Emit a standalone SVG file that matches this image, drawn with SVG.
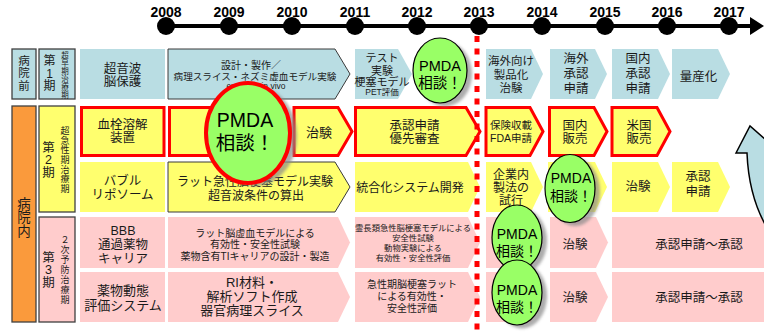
<svg xmlns="http://www.w3.org/2000/svg" width="764" height="335" viewBox="0 0 764 335">
<defs>
<style>
text { font-family: "Liberation Sans","Noto Sans CJK JP",sans-serif; text-anchor: middle; dominant-baseline: central; fill: #1a1a1a; }
.yr { font-weight: bold; font-size: 14px; dominant-baseline: alphabetic; fill: #000; }
.blue { fill: #b9dde3; }
.yel { fill: #ffff6e; }
.pink { fill: #ffcccc; }
.orange { fill: #fa9a3c; }
.red { stroke: #ff0000; stroke-width: 3; }
.dk { stroke: #3a3a3a; stroke-width: 1; }
.lbl { stroke: #404040; stroke-width: 1.3; }
.pm { fill: #99ff66; stroke: #000; stroke-width: 1.2; }
.pmr { fill: #99ff66; stroke: #ff0000; stroke-width: 4; }
.sh { fill: #8a8a8a; opacity: 0.7; filter: url(#blur); }
.pt { fill: #000; }
</style>
<filter id="blur" x="-20%" y="-20%" width="140%" height="140%"><feGaussianBlur stdDeviation="1.5"/></filter>
</defs>
<rect width="764" height="335" fill="#fff"/>

<g id="timeline">
<line x1="166" y1="26" x2="752" y2="26" stroke="#000" stroke-width="4"/>
<polygon points="750,17 764,26 750,35" fill="#000"/>
<g fill="#000">
<circle cx="166" cy="26" r="9"/><circle cx="229" cy="26" r="9"/><circle cx="292" cy="26" r="9"/><circle cx="355" cy="26" r="9"/><circle cx="417" cy="26" r="9"/><circle cx="479" cy="26" r="9"/><circle cx="542" cy="26" r="9"/><circle cx="605" cy="26" r="9"/><circle cx="667" cy="26" r="9"/><circle cx="729" cy="26" r="9"/>
</g>
<text class="yr" x="166" y="17">2008</text><text class="yr" x="229" y="17">2009</text><text class="yr" x="292" y="17">2010</text><text class="yr" x="355" y="17">2011</text><text class="yr" x="417" y="17">2012</text><text class="yr" x="479" y="17">2013</text><text class="yr" x="542" y="17">2014</text><text class="yr" x="605" y="17">2015</text><text class="yr" x="667" y="17">2016</text><text class="yr" x="729" y="17">2017</text>
</g>

<g id="labels">
<rect x="12" y="49" width="24" height="50" class="blue lbl"/>
<text font-size="11.5"><tspan x="24" y="60.5">病</tspan><tspan x="24" y="73">院</tspan><tspan x="24" y="85.5">前</tspan></text>
<rect x="12" y="106" width="24" height="216" class="orange lbl"/>
<text font-size="13.5"><tspan x="24" y="203.5">病</tspan><tspan x="24" y="217">院</tspan><tspan x="24" y="230.5">内</tspan></text>
<rect x="39" y="49" width="36" height="50" class="blue lbl"/>
<text font-size="12"><tspan x="49.5" y="61">第</tspan><tspan x="49.5" y="73.5">1</tspan><tspan x="49.5" y="86">期</tspan></text>
<text font-size="7.5"><tspan x="65" y="55">超</tspan><tspan x="65" y="63">早</tspan><tspan x="65" y="71">期</tspan><tspan x="65" y="79">治</tspan><tspan x="65" y="87">療</tspan><tspan x="65" y="95">期</tspan></text>
<rect x="39" y="106" width="36" height="106" class="yel lbl"/>
<text font-size="12.5"><tspan x="48.5" y="147.5">第</tspan><tspan x="48.5" y="160">2</tspan><tspan x="48.5" y="172.5">期</tspan></text>
<text font-size="9"><tspan x="65" y="131">超</tspan><tspan x="65" y="140.7">急</tspan><tspan x="65" y="150.3">性</tspan><tspan x="65" y="160">期</tspan><tspan x="65" y="169.7">治</tspan><tspan x="65" y="179.3">療</tspan><tspan x="65" y="189">期</tspan></text>
<rect x="39" y="217" width="36" height="105" class="pink lbl"/>
<text font-size="12.5"><tspan x="48.5" y="257.5">第</tspan><tspan x="48.5" y="270">3</tspan><tspan x="48.5" y="282.5">期</tspan></text>
<text font-size="9"><tspan x="65" y="240">２</tspan><tspan x="65" y="250">次</tspan><tspan x="65" y="260">予</tspan><tspan x="65" y="270">防</tspan><tspan x="65" y="280">治</tspan><tspan x="65" y="290">療</tspan><tspan x="65" y="300">期</tspan></text>
</g>

<g id="row1">
<rect x="80" y="49" width="85" height="50" class="blue"/>
<text font-size="12.5"><tspan x="122.5" y="68.5">超音波</tspan><tspan x="122.5" y="82">脳保護</tspan></text>
<polygon points="168,49 335,49 350,74 335,99 168,99" class="blue dk"/>
<text font-size="10" x="251" y="65">設計・製作／</text>
<text font-size="9.6" x="255" y="76">病理スライス・ネズミ虚血モデル実験</text>
<text font-size="8.5" x="256" y="86" fill="#333">ex vivo　in vivo</text>
<polygon points="355,49 398,49 412,74 398,99 355,99" class="blue"/>
<text font-size="11"><tspan x="382" y="58">テスト</tspan><tspan x="382" y="70.5">実験</tspan><tspan x="382" y="82">梗塞モデル</tspan><tspan x="382" y="92" font-size="8.5">PET評価</tspan></text>
<polygon points="486,49 531,49 543,74 531,99 486,99" class="blue"/>
<text font-size="11.5"><tspan x="511" y="61">海外向け</tspan><tspan x="511" y="75">製品化</tspan><tspan x="511" y="88">治験</tspan></text>
<polygon points="550,49 595,49 607,74 595,99 550,99" class="blue"/>
<text font-size="12.5"><tspan x="576" y="59">海外</tspan><tspan x="576" y="74">承認</tspan><tspan x="576" y="89">申請</tspan></text>
<polygon points="612,49 658,49 670,74 658,99 612,99" class="blue"/>
<text font-size="12.5"><tspan x="638" y="59">国内</tspan><tspan x="638" y="74">承認</tspan><tspan x="638" y="89">申請</tspan></text>
<polygon points="672,49 718,49 730,74 718,99 672,99" class="blue"/>
<text font-size="12.5" x="698.5" y="77">量産化</text>
</g>

<g id="row2">
<rect x="81.5" y="107.5" width="82.5" height="48" class="yel red"/>
<text font-size="12.5"><tspan x="122.5" y="124.5">血栓溶解</tspan><tspan x="122.5" y="138">装置</tspan></text>
<polygon points="169.5,107.5 276,107.5 290,131.5 276,155.5 169.5,155.5" class="yel red"/>
<polygon points="294,107.5 338,107.5 352,131.5 338,155.5 294,155.5" class="yel red"/>
<text font-size="13" x="319" y="132">治験</text>
<polygon points="355.5,107.5 466,107.5 480,131.5 466,155.5 355.5,155.5" class="yel red"/>
<text font-size="12.5"><tspan x="414.5" y="125.5">承認申請</tspan><tspan x="414.5" y="139">優先審査</tspan></text>
<polygon points="486,107.5 530,107.5 543,131.5 530,155.5 486,155.5" class="yel red"/>
<text font-size="10.5"><tspan x="511" y="125">保険収載</tspan><tspan x="511" y="138">FDA申請</tspan></text>
<polygon points="549.5,107.5 594,107.5 607,131.5 594,155.5 549.5,155.5" class="yel red"/>
<text font-size="12.5"><tspan x="575" y="125.5">国内</tspan><tspan x="575" y="139">販売</tspan></text>
<polygon points="612,107.5 657,107.5 670,131.5 657,155.5 612,155.5" class="yel red"/>
<text font-size="12.5"><tspan x="639" y="125.5">米国</tspan><tspan x="639" y="139">販売</tspan></text>
</g>

<g id="row3">
<rect x="80" y="162" width="85" height="50" class="yel"/>
<text font-size="12.5"><tspan x="122.5" y="181">バブル</tspan><tspan x="122.5" y="194.5">リポソーム</tspan></text>
<polygon points="168,162 335,162 350,187 335,212 168,212" class="yel dk"/>
<text font-size="12"><tspan x="255" y="182">ラット急性脳梗塞モデル実験</tspan><tspan x="256" y="196">超音波条件の算出</tspan></text>
<polygon points="355,162 468,162 480,187 468,212 355,212" class="yel"/>
<text font-size="12" x="410" y="188">統合化システム開発</text>
<polygon points="486,162 531,162 543,187 531,212 486,212" class="yel"/>
<text font-size="12"><tspan x="511" y="175">企業内</tspan><tspan x="511" y="188">製法の</tspan><tspan x="511" y="201">試行</tspan></text>
<polygon points="548,162 595,162 607,187 595,212 548,212" class="yel"/>
<polygon points="612,162 658,162 670,187 658,212 612,212" class="yel"/>
<text font-size="12.5" x="638" y="187">治験</text>
<polygon points="672,162 718,162 730,187 718,212 672,212" class="yel"/>
<text font-size="12.5"><tspan x="698" y="177">承認</tspan><tspan x="698" y="192">申請</tspan></text>
</g>

<g id="row4">
<rect x="80" y="217" width="85" height="51" class="pink"/>
<text font-size="12.5"><tspan x="123" y="231">BBB</tspan><tspan x="123" y="245">通過薬物</tspan><tspan x="123" y="258.5">キャリア</tspan></text>
<polygon points="168,217 338,217 350,242.5 338,268 168,268" class="pink"/>
<text font-size="10"><tspan x="255" y="233">ラット脳虚血モデルによる</tspan><tspan x="255" y="244">有効性・安全性試験</tspan><tspan x="255" y="255.5">薬物含有TIキャリアの設計・製造</tspan></text>
<polygon points="355,217 468,217 480,242.5 468,268 355,268" class="pink"/>
<text font-size="8.3"><tspan x="413" y="228">霊長類急性脳梗塞モデルによる</tspan><tspan x="413" y="238">安全性試験</tspan><tspan x="413" y="248">動物実験による</tspan><tspan x="413" y="258">有効性・安全性評価</tspan></text>
<polygon points="486,217 531,217 543,242.5 531,268 486,268" class="pink"/>
<polygon points="550,217 596,217 608,242.5 596,268 550,268" class="pink"/>
<text font-size="12.5" x="575" y="245">治験</text>
<rect x="612" y="217" width="152" height="51" class="pink"/>
<text font-size="12.5" x="699" y="245">承認申請～承認</text>
</g>

<g id="row5">
<rect x="80" y="272" width="85" height="50" class="pink"/>
<text font-size="13"><tspan x="123" y="290">薬物動態</tspan><tspan x="123" y="305">評価システム</tspan></text>
<polygon points="168,272 338,272 350,297 338,322 168,322" class="pink"/>
<text font-size="13"><tspan x="252" y="282">RI材料・</tspan><tspan x="252" y="296">解析ソフト作成</tspan><tspan x="252" y="310">器官病理スライス</tspan></text>
<polygon points="355,272 468,272 480,297 468,322 355,322" class="pink"/>
<text font-size="10"><tspan x="412" y="284">急性期脳梗塞ラット</tspan><tspan x="412" y="296">による有効性・</tspan><tspan x="412" y="308">安全性評価</tspan></text>
<polygon points="486,272 531,272 543,297 531,322 486,322" class="pink"/>
<polygon points="550,272 596,272 608,297 596,322 550,322" class="pink"/>
<text font-size="12.5" x="575" y="298">治験</text>
<rect x="612" y="272" width="152" height="50" class="pink"/>
<text font-size="12.5" x="699" y="298">承認申請～承認</text>
</g>

<g id="connectors">
<line x1="477" y1="36" x2="477" y2="335" stroke="#ff0000" stroke-width="5" stroke-dasharray="6 6.5"/>
<path d="M736,153 L750,126 L800,170 L790,170 L790,250 L775,240 Q749,205 747,153 Z" fill="#b9dde3" stroke="#000" stroke-width="1.5"/>
</g>

<g id="pmda1">
<ellipse cx="445" cy="74" rx="27" ry="32.5" class="sh"/>
<ellipse cx="440" cy="70.5" rx="27" ry="32.5" class="pm"/>
<text class="pt" font-size="14.5"><tspan x="440" y="66">PMDA</tspan><tspan x="440" y="82.5">相談！</tspan></text>
</g>
<g id="pmda-main">
<ellipse cx="255" cy="136" rx="42" ry="50" class="sh"/>
<ellipse cx="248" cy="133" rx="42" ry="50" class="pmr"/>
<text class="pt" font-size="19.5"><tspan x="245" y="119.5">PMDA</tspan><tspan x="245" y="142.5">相談！</tspan></text>
</g>
<g id="pmda2">
<ellipse cx="575" cy="192" rx="25" ry="34" class="sh"/>
<ellipse cx="570" cy="188.5" rx="25" ry="34" class="pm"/>
<text class="pt" font-size="14"><tspan x="571" y="178">PMDA</tspan><tspan x="571" y="195.5">相談！</tspan></text>
</g>
<g id="pmda3">
<ellipse cx="522" cy="241" rx="25" ry="32.5" class="sh"/>
<ellipse cx="517" cy="237.5" rx="25" ry="32.5" class="pm"/>
<text class="pt" font-size="14"><tspan x="517" y="233.5">PMDA</tspan><tspan x="517" y="250.5">相談！</tspan></text>
</g>
<g id="pmda4">
<ellipse cx="522" cy="296" rx="25" ry="32.5" class="sh"/>
<ellipse cx="517" cy="292.5" rx="25" ry="32.5" class="pm"/>
<text class="pt" font-size="14"><tspan x="517" y="290">PMDA</tspan><tspan x="517" y="307">相談！</tspan></text>
</g>
</svg>
